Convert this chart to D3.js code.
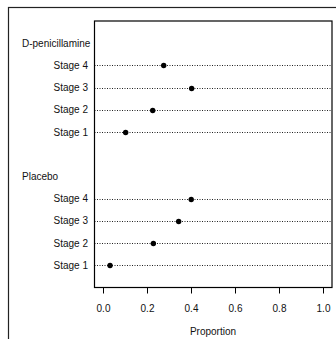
<!DOCTYPE html>
<html><head><meta charset="utf-8">
<script src="https://cdn.jsdelivr.net/npm/d3@7"></script>
<style>body{margin:0;background:#fff}svg{display:block}text{font-family:"Liberation Sans",Arial,sans-serif;font-size:10px;fill:#111}</style>
</head><body>
<script>
const groups = ["D-penicillamine", "Placebo"];
const stages = ["Stage 4", "Stage 3", "Stage 2", "Stage 1"];
const dpenValues = [0.276, 0.403, 0.226, 0.103];
const placeboValues = [0.401, 0.344, 0.229, 0.032];
const xTicks = [0, 0.2, 0.4, 0.6, 0.8, 1.0];
const xLabel = "Proportion";

const W = 336, H = 339;
const svg = d3.select("body").append("svg").attr("width", W).attr("height", H);

svg.append("rect").attr("x", 8.5).attr("y", 7.5).attr("width", 340).attr("height", 345)
  .attr("fill", "none").attr("stroke", "#222").attr("stroke-width", 1.2);

const box = {l: 94.5, r: 332, t: 21, b: 287.5};
const x = d3.scaleLinear().domain([0, 1]).range([103, 323]);
const y = d3.scaleLinear().domain([0, 12]).range([box.b, box.t]);

const rows = [];
const allVals = [dpenValues, placeboValues];
let pos = 11;
groups.forEach((g, gi) => {
  rows.push({type: "group", label: g, pos: pos});
  pos -= 1;
  stages.forEach((s, si) => {
    rows.push({type: "item", label: s, pos: pos, value: allVals[gi][si]});
    pos -= 1;
  });
  pos -= 1;
});

const items = rows.filter(r => r.type === "item");
const py = d => Math.round(y(d.pos)) + 0.5;
svg.selectAll("line.dot").data(items).enter().append("line")
  .attr("x1", box.l).attr("x2", box.r)
  .attr("y1", py).attr("y2", py)
  .attr("stroke", "#222").attr("stroke-width", 1).attr("stroke-dasharray", "1 1.5");

svg.selectAll("circle").data(items).enter().append("circle")
  .attr("cx", d => x(d.value)).attr("cy", py).attr("r", 2.7).attr("fill", "#000");

svg.selectAll("text.item").data(items).enter().append("text")
  .attr("x", 88).attr("y", d => y(d.pos) + 3.6).attr("text-anchor", "end").text(d => d.label);

svg.selectAll("text.group").data(rows.filter(r => r.type === "group")).enter().append("text")
  .attr("x", 22).attr("y", d => y(d.pos) + 3.6).attr("text-anchor", "start").text(d => d.label);

svg.append("rect").attr("x", box.l).attr("y", box.t).attr("width", box.r - box.l).attr("height", box.b - box.t)
  .attr("fill", "none").attr("stroke", "#000").attr("stroke-width", 1.2);

const ax = svg.append("g").attr("transform", `translate(0,${box.b})`)
  .call(d3.axisBottom(x).tickValues(xTicks).tickFormat(d3.format(".1f")).tickSize(6).tickPadding(11));
ax.select(".domain").remove();
ax.selectAll("line").attr("stroke", "#000");
ax.selectAll("text").attr("font-size", "10px").attr("font-family", "Liberation Sans, Arial, sans-serif").attr("fill", "#111");

svg.append("text").attr("x", x(0.5)).attr("y", 334.5).attr("text-anchor", "middle").text(xLabel);
</script>
</body></html>
